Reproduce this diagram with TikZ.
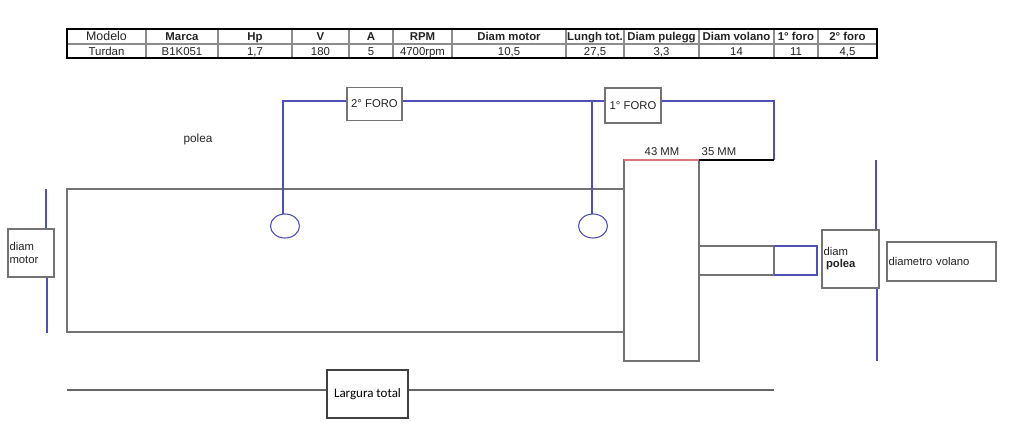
\documentclass[tikz,border=0pt]{standalone}
\usepackage{fontspec}
\setmainfont{Liberation Sans}
\newfontfamily\carl{Carlito}
\definecolor{lineblue}{RGB}{80,80,180}
\definecolor{linegrey}{RGB}{115,115,115}
\definecolor{linered}{RGB}{215,120,125}
\definecolor{tabgrey}{RGB}{140,140,140}
\definecolor{txt}{RGB}{35,35,35}
\tikzset{
  x=1pt,y=-1pt,
  tabcell/.style={inner sep=0pt,font=\fontsize{11.4}{12}\selectfont,text=txt,anchor=base},
  box/.style={draw=linegrey,line width=1.1pt,fill=white,inner sep=0pt,font=\fontsize{11.3}{13}\selectfont,text=txt},
  lbl/.style={inner sep=0pt,font=\fontsize{11.3}{13}\selectfont,text=txt},
  blueline/.style={color=lineblue,line width=1.1pt},
  part/.style={color=linegrey,line width=1.1pt}
}
\begin{document}
\begin{tikzpicture}
\useasboundingbox (0,0) rectangle (1012,434);
% table
\foreach \n/\xa/\xb/\h/\v in {0/67/146/{\fontsize{12.4}{12}\selectfont Modelo}/Turdan,1/146/218/\textbf{Marca}/B1K051,2/218/292/\textbf{Hp}/{1,7},3/292/349/\textbf{V}/180,4/349/393/\textbf{A}/5,5/393/452/\textbf{RPM}/4700rpm,6/452/566/\textbf{Diam motor}/{10,5},7/566/624/\textbf{Lungh tot.}/{27,5},8/624/699/\textbf{Diam pulegg}/{3,3},9/699/774/\textbf{Diam volano}/14,10/774/818/\textbf{1° foro}/11,11/818/877/\textbf{2° foro}/{4,5}}{
  \node[tabcell] (h\n) at ({(\xa+\xb)/2},40) {\h};
  \node[tabcell] (v\n) at ({(\xa+\xb)/2},55) {\v};
  \draw[color=tabgrey,line width=1.1pt] (\xb,29) -- (\xb,58);
}
\draw[color=tabgrey,line width=1.1pt] (67,44) -- (877,44);
\draw[color=black,line width=1.5pt] (67,29) rectangle (877,58);
% body parts
\draw[part] (67,189) rectangle (624,332);
\draw[part] (624,160) rectangle (699,361);
\draw[part] (699,246) rectangle (774,275);
% boxes
\node[box,minimum width=55pt,minimum height=33pt,align=center] (foroB) at (374.5,104) {2° FORO};
\node[box,minimum width=56pt,minimum height=35pt,align=center] (foroA) at (633,105.5) {1° FORO};
\node[box,minimum width=46pt,minimum height=48pt,align=left,text width=43pt] (dmotor) at (31,253) {diam\\motor};
\node[box,minimum width=57pt,minimum height=58pt,align=left,text width=54pt] (dpolea) at (850.5,259) {diam\\[-1pt]\hspace*{2.5pt}\textbf{polea}};
\node[box,minimum width=109pt,minimum height=39pt,align=left,text width=106pt] (dvolano) at (941.5,261.5) {diametro volano};
\node[box,draw=black!75,minimum width=81pt,minimum height=48pt,font=\carl\fontsize{13}{15}\selectfont,text=black] (larg) at (367.5,394) {Largura total};
\node[lbl] (polea) at (198,139.5) {\fontsize{11.8}{13}\selectfont polea};
\node[lbl] (mmA) at (662,152) {43 MM};
\node[lbl] (mmB) at (719,152) {35 MM};
% holes
\draw[blueline] (285,226) ellipse [x radius=14.5,y radius=12];
\draw[blueline] (593,226) ellipse [x radius=14.5,y radius=12];
\coordinate (holeB) at (283,214);
\coordinate (holeA) at (592,214);
\coordinate (cornerB) at (283,101);
\coordinate (branchA) at (592,101);
\coordinate (cornerA) at (774,101);
\coordinate (mmEnd) at (774,160);
\coordinate (mmMid) at (699,160);
\coordinate (mmStart) at (624,160);
% blue connectors
\draw[blueline] (holeB) -- (cornerB) -- (foroB.west |- cornerB);
\draw[blueline] (foroB.east |- cornerB) -- (foroA.west |- cornerB);
\draw[blueline] (holeA) -- (branchA);
\draw[blueline] (foroA.east |- cornerA) -- (cornerA) -- (mmEnd);
\draw[color=linered,line width=1.6pt] (mmStart) -- (mmMid);
\draw[color=black,line width=1.6pt] (mmMid) -- (mmEnd);
\draw[blueline] (774,246) -- (817,246) -- (817,275) -- (774,275);
\coordinate (mtTop) at (46,189);
\coordinate (mtBot) at (47,333);
\coordinate (plTop) at (876,160);
\coordinate (plBot) at (877,361);
\draw[blueline] (mtTop) -- (mtTop |- dmotor.north);
\draw[blueline] (mtBot |- dmotor.south) -- (mtBot);
\draw[blueline] (plTop) -- (plTop |- dpolea.north);
\draw[blueline] (plBot |- dpolea.south) -- (plBot);
% total width
\coordinate (wL) at (67,390);
\coordinate (wR) at (774,390);
\draw[color=black!60,line width=1.1pt] (wL) -- (larg.west |- wL);
\draw[color=black!60,line width=1.1pt] (larg.east |- wR) -- (wR);
\end{tikzpicture}
\end{document}
